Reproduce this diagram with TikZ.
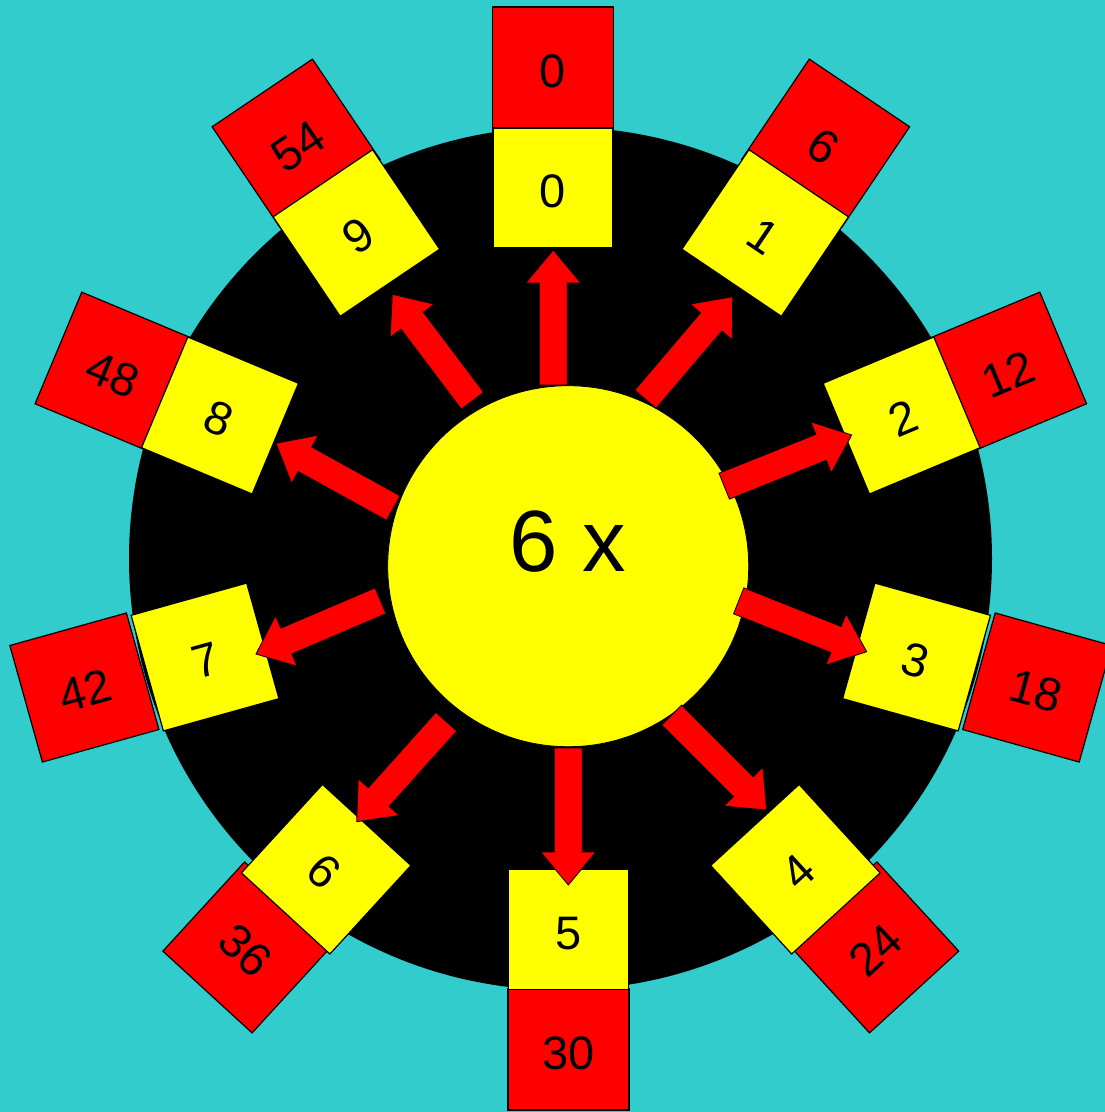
\documentclass[tikz,border=0pt]{standalone}
\usepackage{fontspec}
\setmainfont{Liberation Sans}
\usetikzlibrary{calc}
\definecolor{bgteal}{HTML}{33CCCC}
\definecolor{redc}{HTML}{FF0000}
\definecolor{yelc}{HTML}{FFFF00}
\tikzset{
  ysq/.style={draw=black, line width=1.2pt, fill=yelc, minimum size=120pt, inner sep=0pt,
    text height=39.6pt, text depth=0pt, font=\fontsize{47}{56}\selectfont},
  rsq/.style={ysq, fill=redc, minimum size=121pt},
  arrowbody/.style={fill=redc, draw=black, line width=0.8pt, line join=miter},
}
\newcommand{\blockarrow}[2]{%
  \path ($(#2)!33pt!(#1)$) coordinate (hb);
  \filldraw[arrowbody] ($(#1)!14pt!90:(#2)$) -- ($(hb)!14pt!90:(#2)$) -- ($(hb)!27.5pt!90:(#2)$)
    -- (#2) -- ($(hb)!27.5pt!-90:(#2)$) -- ($(hb)!14pt!-90:(#2)$) -- ($(#1)!14pt!-90:(#2)$) -- cycle;}
\begin{document}
\begin{tikzpicture}[x=1pt, y=-1pt]
\useasboundingbox (0,0) rectangle (1105,1112);
\fill[bgteal] (0,0) rectangle (1105,1112);
\node[circle, fill=black, minimum size=863pt, inner sep=0pt] (outer) at (560.5,558.5) {};
\node[circle, fill=yelc, draw=black, line width=0.8pt, minimum size=361pt, inner sep=0pt] (hub) at (568.2,566.2) {};
% red squares
\node[rsq, rotate=0]     (r0) at (553,67.5) {0};
\node[rsq, rotate=-34]   (r1) at (825.6,143.1) {6};
\node[rsq, rotate=22.7]  (r2) at (1007.35,371.3) {12};
\node[rsq, rotate=-15.6] (r3) at (1037.2,687.5) {18};
\node[rsq, rotate=42.5]  (r4) at (873.25,947.4) {24};
\node[rsq, rotate=0]     (r5) at (568.5,1049.5) {30};
\node[rsq, rotate=-42.5] (r6) at (248.35,947.4) {36};
\node[rsq, rotate=15.6]  (r7) at (84.4,687.5) {42};
\node[rsq, rotate=-22.7] (r8) at (114.25,371.3) {48};
\node[rsq, rotate=34]    (r9) at (296.1,143.1) {54};
% yellow squares
\node[ysq, rotate=0]     (y0) at (553,188) {0};
\node[ysq, rotate=-34]   (y1) at (765.2,233) {1};
\node[ysq, rotate=22.7]  (y2) at (901.6,415.5) {2};
\node[ysq, rotate=-15.6] (y3) at (916.55,657) {3};
\node[ysq, rotate=42.5]  (y4) at (795.4,869.2) {4};
\node[ysq, rotate=0]     (y5) at (568.5,929.5) {5};
\node[ysq, rotate=-42.5] (y6) at (326.2,869.2) {6};
\node[ysq, rotate=15.6]  (y7) at (205.05,657) {7};
\node[ysq, rotate=-22.7] (y8) at (220,415.5) {8};
\node[ysq, rotate=34]    (y9) at (356.4,233) {9};
% arrows
\coordinate (s0) at (553.3,385);   \coordinate (t0) at (553.3,250);
\coordinate (s1) at (645.5,399.2); \coordinate (t1) at (732.7,296.7);
\coordinate (s2) at (724.2,486.2); \coordinate (t2) at (851.7,435);
\coordinate (s3) at (738.7,600.8); \coordinate (t3) at (866.7,651.7);
\coordinate (s4) at (671.7,715);   \coordinate (t4) at (766.7,810);
\coordinate (s5) at (568.3,748);   \coordinate (t5) at (568.3,885);
\coordinate (s6) at (446.3,721.7); \coordinate (t6) at (356.7,821.7);
\coordinate (s7) at (380.5,600.8); \coordinate (t7) at (256,654);
\coordinate (s8) at (393.3,508);   \coordinate (t8) at (276,443.3);
\coordinate (s9) at (472.5,400.7); \coordinate (t9) at (392.3,294.3);
\foreach \i in {0,...,9} {\blockarrow{s\i}{t\i}}
\node[anchor=base, inner sep=0pt, font=\fontsize{87}{100}\selectfont] (lbl) at (568,571) {6 x};
\end{tikzpicture}
\end{document}
